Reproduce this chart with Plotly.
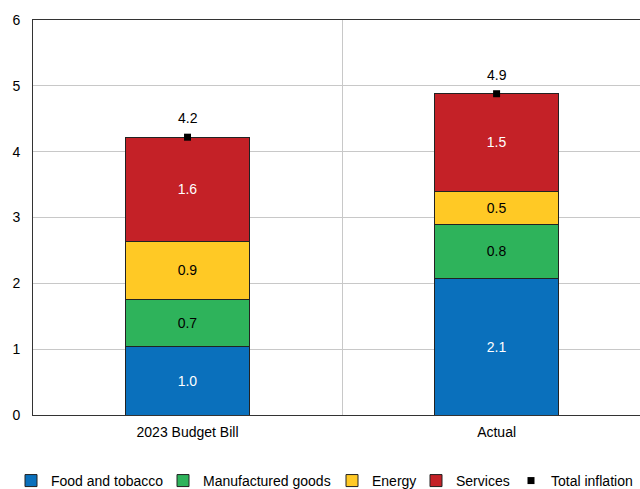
import plotly.graph_objects as go

categories = ["2023 Budget Bill", "Actual"]
food = [1.04, 2.08]
manufactured = [0.71, 0.82]
energy = [0.89, 0.50]
services = [1.58, 1.49]
total = [4.22, 4.88]

series = [
    ("Food and tobacco", food, "#0A70BC", "white"),
    ("Manufactured goods", manufactured, "#2EB35B", "black"),
    ("Energy", energy, "#FFC925", "black"),
    ("Services", services, "#C42127", "white"),
]
legend_ids = ["legend", "legend2", "legend3", "legend4", "legend5"]
legend_left_px = [11, 163, 332, 416, 511]

fig = go.Figure()
for (name, vals, col, tcol), lid in zip(series, legend_ids):
    fig.add_trace(go.Bar(
        x=categories, y=vals, name=name, legend=lid,
        marker=dict(color=col, line=dict(color="#222222", width=1)),
        text=[f"{v:.1f}" for v in vals], textposition="inside",
        insidetextanchor="middle",
        textfont=dict(color=tcol, size=14, family="Liberation Sans"),
        width=0.40,
    ))

fig.add_trace(go.Scatter(
    x=categories, y=total, name="Total inflation", mode="markers", legend="legend5",
    marker=dict(symbol="square", size=7, color="black"),
))
for c, t in zip(categories, total):
    fig.add_annotation(x=c, y=t, text=f"{t:.1f}", showarrow=False, yshift=19,
                       font=dict(color="black", size=14, family="Liberation Sans"))

plot_l, plot_r = 33, 640
legends = {}
for lid, px in zip(legend_ids, legend_left_px):
    legends[lid] = dict(orientation="h", x=(px - plot_l) / (plot_r - plot_l), xanchor="left",
                        y=-0.167, yanchor="middle", bgcolor="rgba(0,0,0,0)", borderwidth=0,
                        font=dict(size=14, family="Liberation Sans"), itemwidth=30)

fig.update_layout(
    barmode="stack",
    showlegend=True,
    width=640, height=489,
    margin=dict(l=plot_l, r=640 - plot_r, t=20, b=74, autoexpand=False),
    plot_bgcolor="white", paper_bgcolor="white",
    font=dict(family="Liberation Sans", size=14, color="black"),
    xaxis=dict(showline=True, linecolor="#333333", linewidth=1, mirror=True,
               showgrid=True, gridcolor="#c8c8c8", tickson="boundaries",
               ticks="", range=[-0.5, 1.464], ticklabelstandoff=4),
    yaxis=dict(range=[0, 6], dtick=1, showline=True, linecolor="#333333", linewidth=1,
               showgrid=True, gridcolor="#c8c8c8", ticks="", zeroline=False,
               ticklabelstandoff=9),
    **legends,
)

fig.write_html("out.html", config={"displayModeBar": False},
               post_script="document.body.style.margin='0';document.body.style.overflow='hidden';")
